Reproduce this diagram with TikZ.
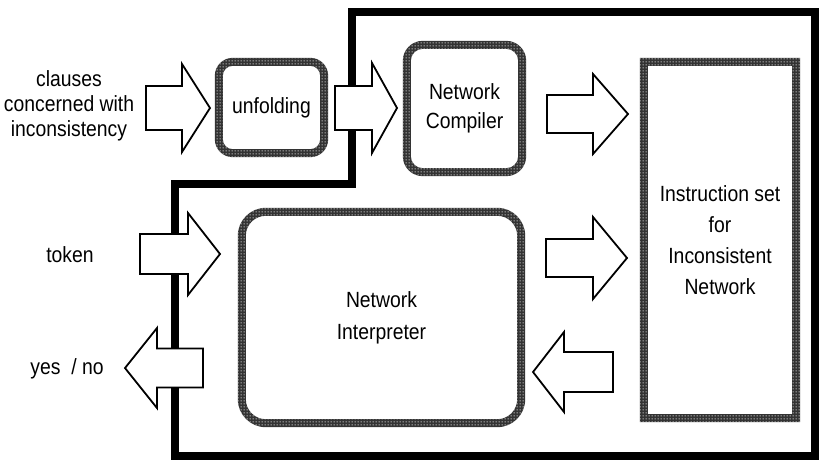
\documentclass[tikz,border=0pt]{standalone}
\usepackage{fontspec}
\setmainfont[FakeStretch=0.88]{Liberation Sans}
\usetikzlibrary{patterns}

% sparse white dots laid over a dark fill give the halftone frames
\pgfdeclarepatternformonly{halftone}{\pgfpointorigin}{\pgfpoint{3pt}{3pt}}{\pgfpoint{3pt}{3pt}}{%
  \pgfpathcircle{\pgfpoint{1.5pt}{1.5pt}}{0.75pt}%
  \pgfusepath{fill}}

% hollow block arrow: tail x, head base x, tip x, centre y, tail half height, head half height
\newcommand{\blockarrow}[6]{%
  \draw[fatarrow] (#1,#4-#5) -- (#2,#4-#5) -- (#2,#4-#6) -- (#3,#4)
    -- (#2,#4+#6) -- (#2,#4+#5) -- (#1,#4+#5) -- cycle;}

% halftone frame round a named node: node, outer radius, inner radius
\newcommand{\halfframe}[3]{%
  \fill[black!80, even odd rule]
    [rounded corners=#2] (#1.north west) rectangle (#1.south east)
    [rounded corners=#3] ([shift={(8,8)}]#1.north west) rectangle ([shift={(-8,-8)}]#1.south east);
  \fill[pattern=halftone, pattern color=white, even odd rule]
    [rounded corners=#2] (#1.north west) rectangle (#1.south east)
    [rounded corners=#3] ([shift={(8,8)}]#1.north west) rectangle ([shift={(-8,-8)}]#1.south east);}

\tikzset{
  lbl/.style={font=\fontsize{22}{25}\selectfont, align=center, inner sep=0pt},
  boxnode/.style={lbl, draw=none},
  fatarrow/.style={draw=black, line width=1.8pt, fill=white, line join=miter},
  outerline/.style={draw=black, line width=8pt, line join=miter},
}

\begin{document}
\begin{tikzpicture}[x=1pt, y=-1pt]
  \useasboundingbox (0,0) rectangle (821,461);

  % enclosing stepped frame
  \draw[outerline] (175,456) -- (175,184) -- (352,184) -- (352,12)
    -- (815,12) -- (815,456) -- cycle;

  % boxes
  \node[boxnode, minimum width=113pt, minimum height=99pt] (unfold) at (271.5,107.5) {unfolding};
  \node[boxnode, minimum width=123pt, minimum height=135pt,
        font=\fontsize{22}{29}\selectfont] (comp) at (464.5,108.5) {Network\\Compiler};
  \node[boxnode, minimum width=287pt, minimum height=219pt,
        font=\fontsize{22}{32}\selectfont] (interp) at (381.5,317.5) {Network\\Interpreter};
  \node[boxnode, minimum width=160pt, minimum height=364pt,
        font=\fontsize{22}{31}\selectfont] (instr) at (720,240)
        {Instruction set\\for\\Inconsistent\\Network};

  \halfframe{unfold}{18pt}{10pt}
  \halfframe{comp}{20pt}{12pt}
  \halfframe{interp}{28pt}{20pt}
  \halfframe{instr}{0.01pt}{0.01pt}

  % outside labels
  \node[lbl] (clauses) at (69,106) {clauses\\concerned with\\inconsistency};
  \node[lbl] (token) at (70,255) {token};
  \node[lbl] (yesno) at (67,369) {yes~~/ no};

  % block arrows
  \blockarrow{146}{182}{210}{108}{22}{44}
  \blockarrow{335}{372}{397}{108}{22}{45}
  \blockarrow{547}{593}{628}{114}{19}{40}
  \blockarrow{140}{188}{220}{254}{20}{41}
  \blockarrow{546}{593}{627}{258}{19}{41}
  \blockarrow{203}{157}{125}{368}{19.5}{40}
  \blockarrow{613}{564}{533}{372}{20}{40}
\end{tikzpicture}
\end{document}
